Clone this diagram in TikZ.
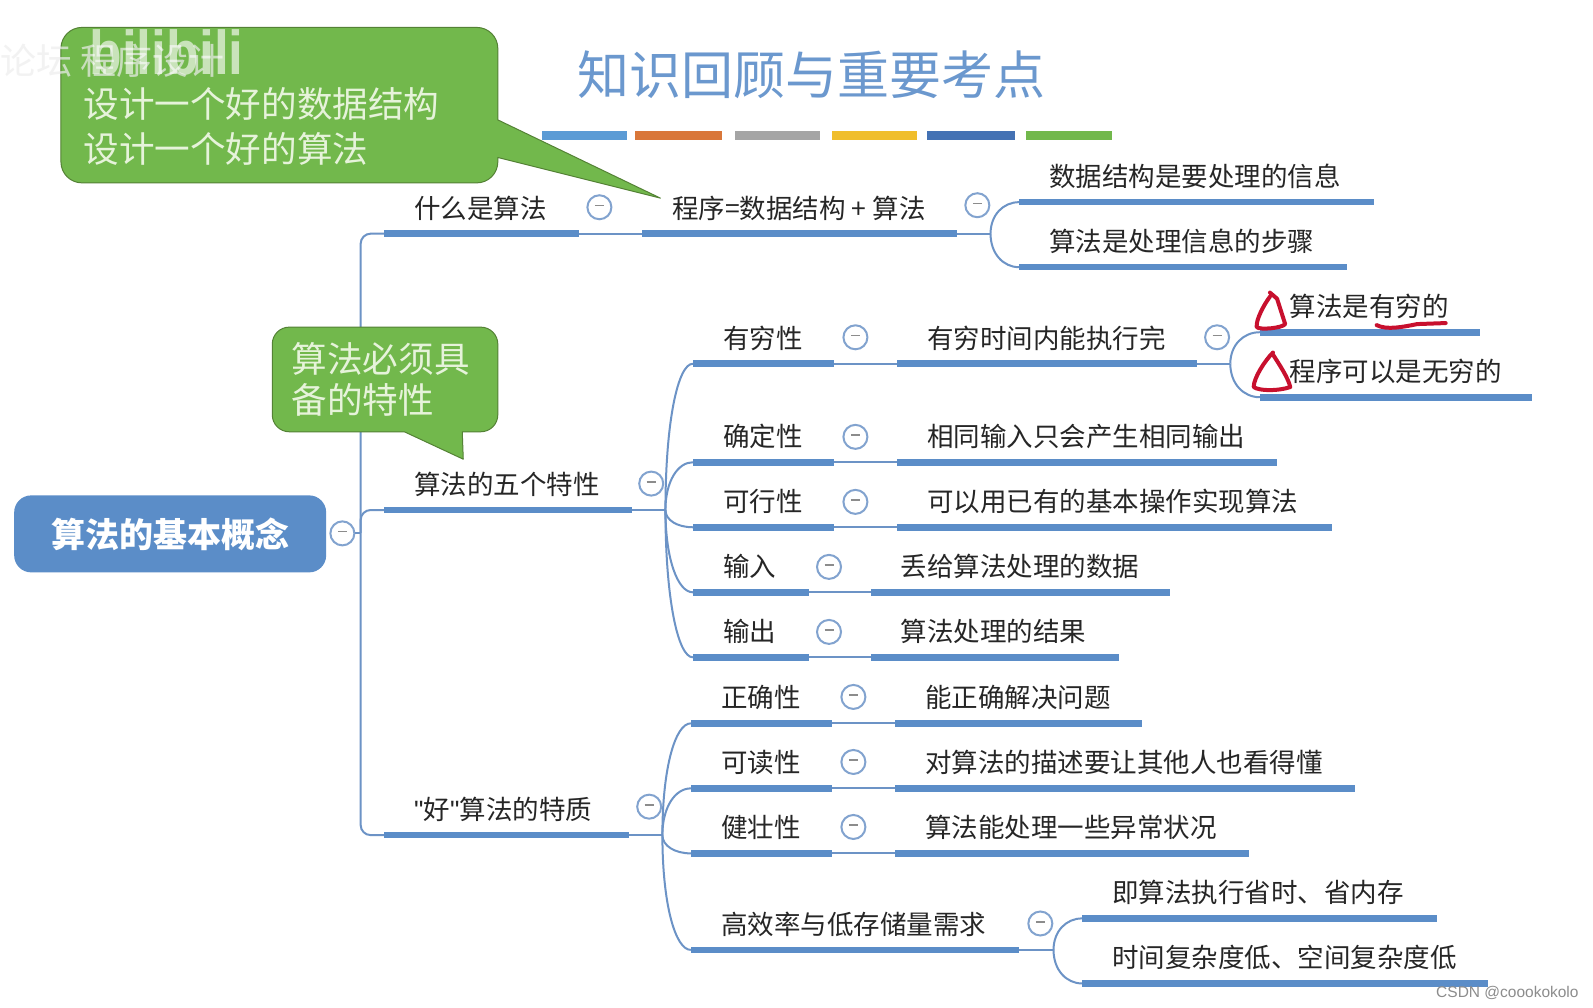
\documentclass[tikz,border=0pt]{standalone}
\usepackage{fontspec}
\setmainfont{Noto Sans CJK SC}
\newfontfamily\latinsf{Liberation Sans}
\usepackage{tikz}
\usetikzlibrary{positioning, calc}
\definecolor{barblue}{HTML}{5B8DC8}
\definecolor{linkblue}{HTML}{6C93C6}
\definecolor{bubblegreen}{HTML}{72B84C}
\definecolor{bubbleline}{HTML}{548235}
\definecolor{bubbletext}{HTML}{E6F3DA}
\definecolor{inkred}{HTML}{C8102E}
\newcommand{\fs}[1]{\fontsize{#1}{#1}\selectfont}
\tikzset{
    topicbar/.style={fill=barblue, inner sep=0pt, outer sep=0pt, minimum height=6.6pt, anchor=west},
    topictext/.style={anchor=west, inner sep=0pt, text=black!85, font=\fs{26.5}},
    link/.style={draw=linkblue, line width=2pt},
    foldbtn/.style={circle, draw=linkblue!85, fill=white, line width=2pt, minimum size=24pt, inner sep=0pt},
    bubble/.style={fill=bubblegreen, draw=bubbleline, line width=1pt, line join=round},
    bubbletxt/.style={anchor=west, inner sep=0pt, align=left, text=bubbletext},
    ink/.style={draw=inkred, line width=4pt, line cap=round, line join=round},
}

\begin{document}
\begin{tikzpicture}[x=1.016pt, y=-1.016pt]
    \useasboundingbox (0,0) rectangle (1568,992);
    \fill[white] (0,0) rectangle (1568,992);

    % Title and colour strip
    \node[anchor=west, inner sep=0pt, text=barblue!90, font=\fs{52}] (title) at (568,74) {知识回顾与重要考点};
    \foreach \xa/\xb/\c in {533/617/5B9BD5, 625/711/D9773A, 723/807/A5A5A5, 819/903/F0BE2C, 912/999/4472B4, 1010/1095/72B84C} {
        \definecolor{stripcol}{HTML}{\c}
        \fill[stripcol] (\xa,129) rectangle (\xb,138);
    }

    % Root
    \node[fill=barblue, rounded corners=17pt, minimum width=312pt, minimum height=77pt, text=white, font=\bfseries\fs{34}] (root) at (167.5,525.5) {算法的基本概念};

    % Topics: name / bar start / bar end / bar height / text
    \foreach \n/\xa/\xb/\y/\lab in {
        what/378/570/230/什么是算法,
        prog/632/942/230/程序=数据结构 + 算法,
        info/1003/1352/199/数据结构是要处理的信息,
        step/1003/1326/263/算法是处理信息的步骤,
        five/378/622/502/算法的五个特性,
        fin/682/821/358/有穷性,
        fintime/883/1178/358/有穷时间内能执行完,
        finalg/1240/1457/327/算法是有穷的,
        finprog/1240/1508/391/程序可以是无穷的,
        sure/682/821/455/确定性,
        surem/883/1257/455/相同输入只会产生相同输出,
        can/682/821/519/可行性,
        canm/883/1311/519/可以用已有的基本操作实现算法,
        inp/682/796/583/输入,
        inpm/857/1152/583/丢给算法处理的数据,
        outp/682/796/647/输出,
        outpm/857/1101/647/算法处理的结果,
        good/378/619/822/{{\latinsf"}好{\latinsf"}算法的特质},
        right/680/819/712/正确性,
        rightm/881/1124/712/能正确解决问题,
        read/680/819/776/可读性,
        readm/881/1334/776/对算法的描述要让其他人也看得懂,
        firm/680/819/840/健壮性,
        firmm/881/1229/840/算法能处理一些异常状况,
        eff/680/1003/935/高效率与低存储量需求,
        efftime/1065/1414/904/即算法执行省时、省内存,
        effspace/1065/1465/968/时间复杂度低、空间复杂度低%
    } {
        \pgfmathsetmacro{\w}{(\xb-\xa)*1.016}
        \node[topicbar, minimum width=\w pt] (bar\n) at (\xa,\y) {};
        \node[topictext] (txt\n) at ({\xa+29.5},{\y-25.3}) {\lab};
    }

    % Straight links between bars
    \foreach \a/\b in {what/prog, fin/fintime, sure/surem, can/canm, inp/inpm, outp/outpm, right/rightm, read/readm, firm/firmm} {
        \draw[link] (bar\a.east) -- (bar\b.west);
    }

    % Main spine
    \coordinate (spine) at (355,525);
    \foreach \c in {what, five, good} {
        \draw[link, rounded corners=10pt] (spine) |- (bar\c.west);
    }

    % Branches: parent / junction x / children
    \foreach \p/\jx/\kids in {
        prog/975/{info,step},
        fintime/1211/{finalg,finprog},
        five/655/{fin,sure,can,inp,outp},
        good/652/{right,read,firm,eff},
        eff/1037/{efftime,effspace}%
    } {
        \coordinate (j\p) at (\jx,0);
        \coordinate (j\p) at (j\p |- bar\p.east);
        \draw[link] (bar\p.east) -- (j\p);
        \foreach \k in \kids {
            \draw[link] (j\p) .. controls ($(j\p)!0.6!(j\p |- bar\k.west)$) and ($(j\p |- bar\k.west)!0.45!(bar\k.west)$) .. (bar\k.west);
        }
    }

    % Fold buttons
    \foreach \n/\x/\y in {
        broot/337/525, bwhat/590/204, bprog/962/202, bfive/641/476, bfin/842/332, bfintime/1198/332,
        bsure/842/430, bcan/842/494, binp/816/558, boutp/816/622, bgood/639/794, bright/840/686,
        bread/840/750, bfirm/840/814, beff/1024/909%
    } {
        \node[foldbtn] (\n) at (\x,\y) {\textcolor{black!45}{\rule[3.5pt]{9pt}{1.6pt}}};
    }
    \draw[link] (broot.east) -- (spine);

    % Callouts
    \draw[bubble, rounded corners=21pt] (60,27) -- (490,27) [sharp corners] -- (490,118) -- (650,195) -- (490,155) [rounded corners=21pt] -- (490,180) -- (60,180) -- cycle;
    \node[bubbletxt, text width=400pt, font=\fontsize{35.6}{45.7}\selectfont] (noteone) at (82,124.5) {设计一个好的数据结构\\设计一个好的算法};
    \draw[bubble, rounded corners=17pt] (268,322) -- (490,322) -- (490,425) [sharp corners] -- (455,425) -- (456,452) -- (398,425) [rounded corners=17pt] -- (268,425) -- cycle;
    \node[bubbletxt, text width=220pt, font=\fontsize{35.6}{40.6}\selectfont] (notetwo) at (287,373.5) {算法必须具\\备的特性};

    % Watermarks
    \node[anchor=west, inner sep=0pt, text=black!7, opacity=.7, font=\fs{36}] (wmtext) at (0,60) {论坛 程序设计};
    \node[anchor=west, inner sep=0pt, text=white, opacity=.62, font=\latinsf\bfseries\fs{62}, xscale=.86] (wmlogo) at (88,52) {bilibili};
    \node[anchor=east, inner sep=0pt, text=black!45, font=\latinsf\fs{15.5}] (wmcsdn) at (1554,977) {CSDN @coookokolo};

    % Red pen marks
    \draw[ink] (1250,288) -- (1257,294) -- (1265,319) .. controls (1262,323) and (1240,325) .. (1237,322) .. controls (1236,315) and (1244,300) .. (1250,292);
    \draw[ink] (1253,349) .. controls (1260,360) and (1268,372) .. (1270,381) .. controls (1258,385) and (1240,385) .. (1234,381) .. controls (1234,372) and (1245,355) .. (1253,347);
    \draw[ink] (1355,320) .. controls (1365,325) and (1380,322) .. (1395,319) -- (1423,318);
\end{tikzpicture}
\end{document}
